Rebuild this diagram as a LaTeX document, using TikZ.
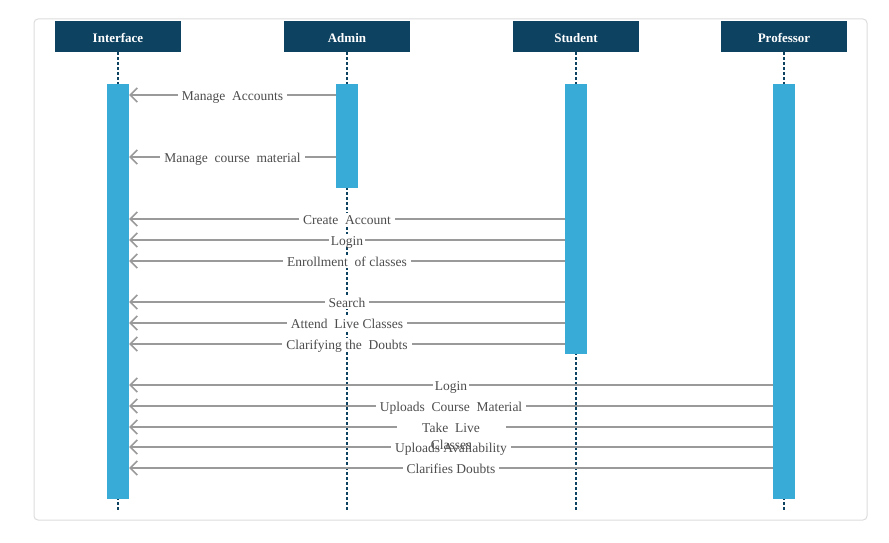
\documentclass[tikz,border=0pt]{standalone}
\usepackage{fontspec}
\setmainfont{Liberation Serif}
\usetikzlibrary{arrows.meta}
\definecolor{hdr}{HTML}{0E4261}
\definecolor{bar}{HTML}{38ACD6}
\definecolor{msgc}{HTML}{9A9A9A}
\definecolor{txt}{HTML}{4D4D4D}
\definecolor{frame}{HTML}{DCDCDC}
\tikzset{
  hdrbox/.style={fill=hdr, text=white, font=\fontsize{13}{15}\selectfont\bfseries, minimum width=126pt, minimum height=31pt, inner sep=0pt, anchor=north, text depth=0pt, text height=12pt},
  actbar/.style={fill=bar, draw=none, minimum width=22pt, inner sep=0pt, anchor=north},
  lifeline/.style={draw=hdr, line width=1.4pt, dash pattern=on 3pt off 2pt},
  msg/.style={draw=msgc, line width=1.8pt, -{Straight Barb[length=7pt,width=14pt,line width=1.6pt]}},
  lab/.style={fill=white, text=txt, font=\fontsize{13.5}{15}\selectfont, inner ysep=1pt, inner xsep=4pt, text depth=0pt, text height=11pt, midway},
}
\begin{document}
\begin{tikzpicture}[x=1pt,y=-1pt]
\useasboundingbox (0,0) rectangle (889,543);
\draw[frame, line width=1pt, rounded corners=4pt] (34,19) rectangle (867,520);
% headers
\node[hdrbox] (hi) at (118,21) {Interface};
\node[hdrbox] (ha) at (347,21) {Admin};
\node[hdrbox] (hs) at (576,21) {Student};
\node[hdrbox] (hp) at (784,21) {Professor};
% lifeline ends
\coordinate (ei) at (118,510);
\coordinate (ea) at (347,510);
\coordinate (es) at (576,510);
\coordinate (ep) at (784,510);
\draw[lifeline] (hi.south) -- (ei);
\draw[lifeline] (ha.south) -- (ea);
\draw[lifeline] (hs.south) -- (es);
\draw[lifeline] (hp.south) -- (ep);
% activation bars
\node[actbar, minimum height=415pt] (bi) at (118,84) {};
\node[actbar, minimum height=104pt] (ba) at (347,84) {};
\node[actbar, minimum height=270pt] (bs) at (576,84) {};
\node[actbar, minimum height=415pt] (bp) at (784,84) {};
% messages from Admin
\draw[msg] (ba.west |- 0,95) -- node[lab]{Manage\ \ Accounts} (bi.east |- 0,95);
\draw[msg] (ba.west |- 0,157) -- node[lab]{Manage\ \ course\ \ material} (bi.east |- 0,157);
% messages from Student
\draw[msg] (bs.west |- 0,219) -- node[lab]{Create\ \ Account} (bi.east |- 0,219);
\draw[msg] (bs.west |- 0,240) -- node[lab, inner xsep=2pt]{Login} (bi.east |- 0,240);
\draw[msg] (bs.west |- 0,261) -- node[lab]{Enrollment\ \ of classes} (bi.east |- 0,261);
\draw[msg] (bs.west |- 0,302) -- node[lab]{Search} (bi.east |- 0,302);
\draw[msg] (bs.west |- 0,323) -- node[lab]{Attend\ \ Live Classes} (bi.east |- 0,323);
\draw[msg] (bs.west |- 0,344) -- node[lab]{Clarifying the\ \ Doubts} (bi.east |- 0,344);
% messages from Professor
\draw[msg] (bp.west |- 0,385) -- node[lab, inner xsep=2pt]{Login} (bi.east |- 0,385);
\draw[msg] (bp.west |- 0,406) -- node[lab]{Uploads\ \ Course\ \ Material} (bi.east |- 0,406);
\draw[msg] (bp.west |- 0,427) -- node[lab, minimum width=109pt] (tl) {Take\ \ Live} (bi.east |- 0,427);
\draw[msg] (bp.west |- 0,447) -- node[lab]{Uploads Availability} (bi.east |- 0,447);
\draw[msg] (bp.west |- 0,468) -- node[lab]{Clarifies Doubts} (bi.east |- 0,468);
\node[text=txt, font=\fontsize{13.5}{15}\selectfont, inner sep=0pt, text depth=0pt, text height=11pt] (tl2) at ([yshift=-17pt]tl.center) {Classes};
\end{tikzpicture}
\end{document}
